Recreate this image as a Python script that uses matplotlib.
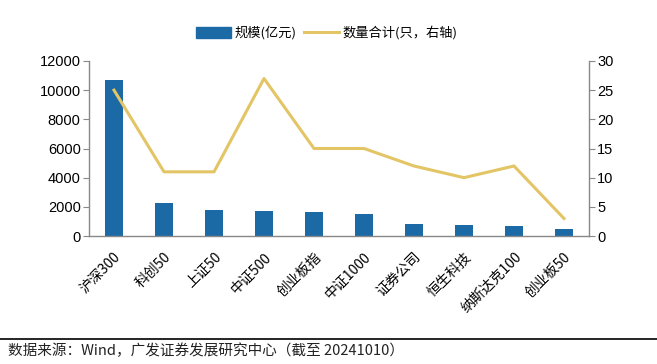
import matplotlib
matplotlib.use("Agg")
import matplotlib.pyplot as plt
from matplotlib.lines import Line2D
from matplotlib.patches import Patch

plt.rcParams['font.family'] = ['Liberation Sans', 'Noto Sans CJK SC', 'DejaVu Sans']

categories = ["沪深300", "科创50", "上证50", "中证500", "创业板指", "中证1000",
              "证券公司", "恒生科技", "纳斯达克100", "创业板50"]
scale = [10700, 2250, 1800, 1700, 1650, 1500, 850, 750, 700, 450]
count = [25, 11, 11, 27, 15, 15, 12, 10, 12, 3]

bar_color = "#1B6AA5"
line_color = "#E3C566"
axis_color = "#888888"

fig = plt.figure(figsize=(6.57, 3.64), dpi=100)
W, H = 657, 364
ax = fig.add_axes([89 / W, 1 - 236 / H, 500 / W, 175 / H])
ax2 = ax.twinx()

x = list(range(len(categories)))
ax.bar(x, scale, width=0.36, color=bar_color, zorder=2)
ax2.plot(x, count, color=line_color, lw=2.2, zorder=3)

ax.set_xlim(-0.5, len(categories) - 0.5)
ax.set_ylim(0, 12000)
ax2.set_ylim(0, 30)
ax.set_yticks(range(0, 12001, 2000))
ax2.set_yticks(range(0, 31, 5))

for a in (ax, ax2):
    for s in a.spines.values():
        s.set_visible(False)
ax.spines['left'].set_visible(True)
ax.spines['bottom'].set_visible(True)
ax2.spines['right'].set_visible(True)
for s in (ax.spines['left'], ax.spines['bottom'], ax2.spines['right']):
    s.set_color(axis_color)
    s.set_linewidth(1.0)

ax.tick_params(axis='y', length=4, color=axis_color, labelsize=10.5, pad=2)
ax2.tick_params(axis='y', length=4, color=axis_color, labelsize=10.5, pad=2)
ax.tick_params(axis='x', length=0, pad=10)
ax.set_xticks(x)
ax.set_xticklabels(categories, rotation=45, ha='right', va='top',
                   rotation_mode='anchor', fontsize=10,
                   family=['Noto Sans CJK SC', 'DejaVu Sans'])

handles = [Patch(color=bar_color), Line2D([0], [0], color=line_color, lw=2.2)]
labels = ["规模(亿元)", "数量合计(只，右轴)"]
fig.legend(handles, labels, loc='center', bbox_to_anchor=(327 / W, 1 - 33 / H),
           ncol=2, frameon=False, fontsize=9.5, handlelength=2.6,
           handleheight=0.9, columnspacing=0.6, handletextpad=0.3,
           prop={'family': ['Noto Sans CJK SC', 'DejaVu Sans'], 'size': 9.5})

fig.add_artist(Line2D([0, 1], [1 - 339 / H, 1 - 339 / H], color='black', lw=1.2,
                      transform=fig.transFigure))
fig.text(8 / W, 1 - 351 / H, "数据来源：Wind，广发证券发展研究中心（截至 20241010）",
         fontsize=10.5, va='center', ha='left', color='#222222',
         family=['Noto Sans CJK SC', 'DejaVu Sans'])

fig.savefig("out.png", dpi=100)
